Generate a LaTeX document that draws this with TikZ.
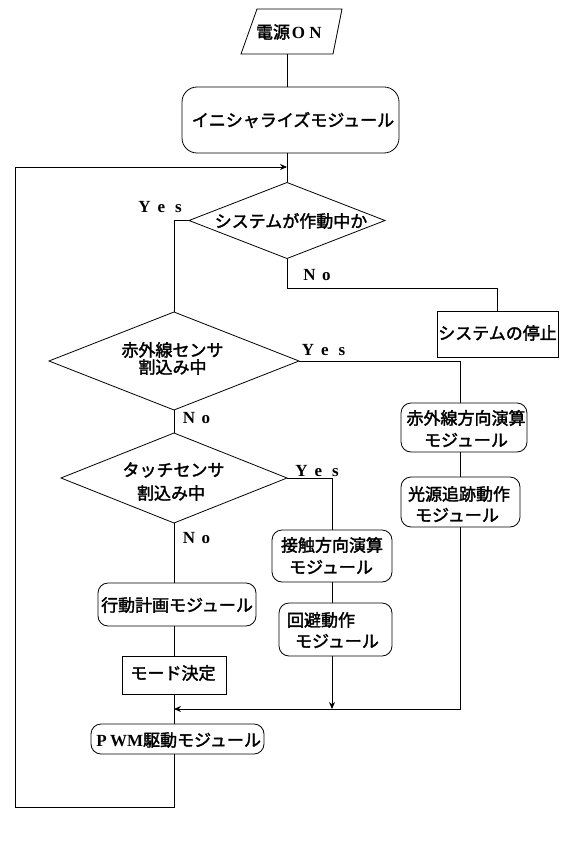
\documentclass[tikz,border=0pt]{standalone}
\usepackage{fontspec}
\usetikzlibrary{arrows.meta,shapes.geometric}
\newfontfamily\jpf{Noto Sans CJK JP}[FakeBold=2]
\newfontfamily\latf{Liberation Serif}
\newcommand\fwc[1]{\makebox[17pt][c]{#1}}
\newcommand\fwl[1]{{\latf\bfseries #1}}
\tikzset{
  shp/.style={draw, line width=0.8pt, inner sep=0pt, outer sep=0pt},
  rbox/.style={shp, rectangle, rounded corners=10pt},
  sbox/.style={shp, rectangle},
  dia/.style={shp, diamond},
  txt/.style={inner sep=0pt, font=\jpf\fontsize{17}{17}\selectfont},
  lbl/.style={inner sep=0pt, font=\latf\bfseries\fontsize{17}{17}\selectfont},
  conn/.style={line width=0.8pt},
  arr/.style={conn, -{Stealth[length=7pt,width=6pt]}}
}
\begin{document}
\begin{tikzpicture}[x=1pt,y=-1pt]
\useasboundingbox[fill=white] (0,0) rectangle (565,850);
% start parallelogram
\draw[line width=0.8pt] (257,9) -- (342,9) -- (333,54) -- (241,54) -- cycle;
\node[inner sep=0pt, minimum width=101pt, minimum height=45pt] (start) at (291.5,31.5) {};
\node[txt] (tstart) at (290,32) {電源\fwl{\fwc{O}\fwc{N}}};
% boxes
\node[rbox, rounded corners=15pt, minimum width=217pt, minimum height=66pt] (init) at (290.5,120) {};
\node[txt] (tinit) at (293,120) {イニシャライズモジュール};
\node[dia, minimum width=196pt, minimum height=76pt] (d1) at (287,220.5) {};
\node[txt] (td1) at (291,221) {システムが作動中か};
\node[sbox, minimum width=121pt, minimum height=46pt] (stop) at (497.5,334) {};
\node[txt] (tstop) at (497.5,333) {システムの停止};
\node[dia, minimum width=250pt, minimum height=98pt] (d2) at (174,361) {};
\node[txt] (td2a) at (172.5,350) {赤外線センサ};
\node[txt] (td2b) at (172.5,367) {割込み中};
\node[rbox, minimum width=126pt, minimum height=49pt] (ir) at (464,427.5) {};
\node[txt] (tira) at (466,418) {赤外線方向演算};
\node[txt] (tirb) at (466,440) {モジュール};
\node[rbox, minimum width=119pt, minimum height=50pt] (light) at (460.5,502) {};
\node[txt] (tla) at (459,494) {光源追跡動作};
\node[txt] (tlb) at (457,515) {モジュール};
\node[dia, minimum width=226pt, minimum height=90pt] (d3) at (174,478) {};
\node[txt] (td3a) at (173.5,470) {タッチセンサ};
\node[txt] (td3b) at (171,493) {割込み中};
\node[rbox, minimum width=120pt, minimum height=52pt] (contact) at (332,556) {};
\node[txt] (tca) at (332,545) {接触方向演算};
\node[txt] (tcb) at (331,567) {モジュール};
\node[rbox, minimum width=113pt, minimum height=53pt] (avoid) at (335.5,629.5) {};
\node[txt] (tava) at (321,620) {回避動作};
\node[txt] (tavb) at (337,641) {モジュール};
\node[rbox, minimum width=158pt, minimum height=43pt] (plan) at (177,604.5) {};
\node[txt] (tplan) at (177,605) {行動計画モジュール};
\node[sbox, minimum width=104pt, minimum height=38pt] (mode) at (174,675) {};
\node[txt] (tmode) at (173,673) {モード決定};
\node[rbox, minimum width=173pt, minimum height=30pt] (pwm) at (177.5,739) {};
\node[txt] (tpwm) at (177,740) {\fwl{\fwc{P}WM}駆動モジュール};
% labels
\node[lbl] (yes1) at (161.5,207) {\fwc{Y}\fwc{e}\fwc{s}};
\node[lbl] (no1) at (318,275) {\fwc{N}\fwc{o}};
\node[lbl] (yes2) at (325,350) {\fwc{Y}\fwc{e}\fwc{s}};
\node[lbl] (no2) at (197.5,418) {\fwc{N}\fwc{o}};
\node[lbl] (yes3) at (318.5,471) {\fwc{Y}\fwc{e}\fwc{s}};
\node[lbl] (no3) at (197.5,538) {\fwc{N}\fwc{o}};
% coordinates
\coordinate (loopin) at (287,167);
\coordinate (lb) at (15,807);
\coordinate (lt) at (15,167);
\coordinate (jl) at (174,709);
\coordinate (jr) at (332,709);
% connectors
\draw[conn] (start.south -| init.north) ++(-3.5,0) -- ++(0,33);
\draw[conn] (init.south -| d1.north) -- (d1.north);
\draw[conn] (d1.west) -| (d2.north);
\draw[conn] (d1.south) |- ++(0,30) -| (stop.north);
\draw[conn] (d2.east) -| (ir.north -| light.north);
\draw[conn] (ir.south -| light.north) -- (light.north);
\draw[arr] (light.south) |- (jl);
\draw[conn] (d2.south) -- (d3.north);
\draw[conn] (d3.east) -| (contact.north);
\draw[conn] (contact.south) -- (contact.south |- avoid.north);
\draw[arr] (avoid.south -| contact.south) -- (jr);
\draw[conn] (d3.south) -- (d3.south |- plan.north);
\draw[conn] (plan.south -| d3.south) -- (mode.north -| d3.south);
\draw[conn] (mode.south -| d3.south) -- (pwm.north -| d3.south);
\draw[arr] (pwm.south -| d3.south) |- (lb) -- (lt) -- (loopin);
\end{tikzpicture}
\end{document}
